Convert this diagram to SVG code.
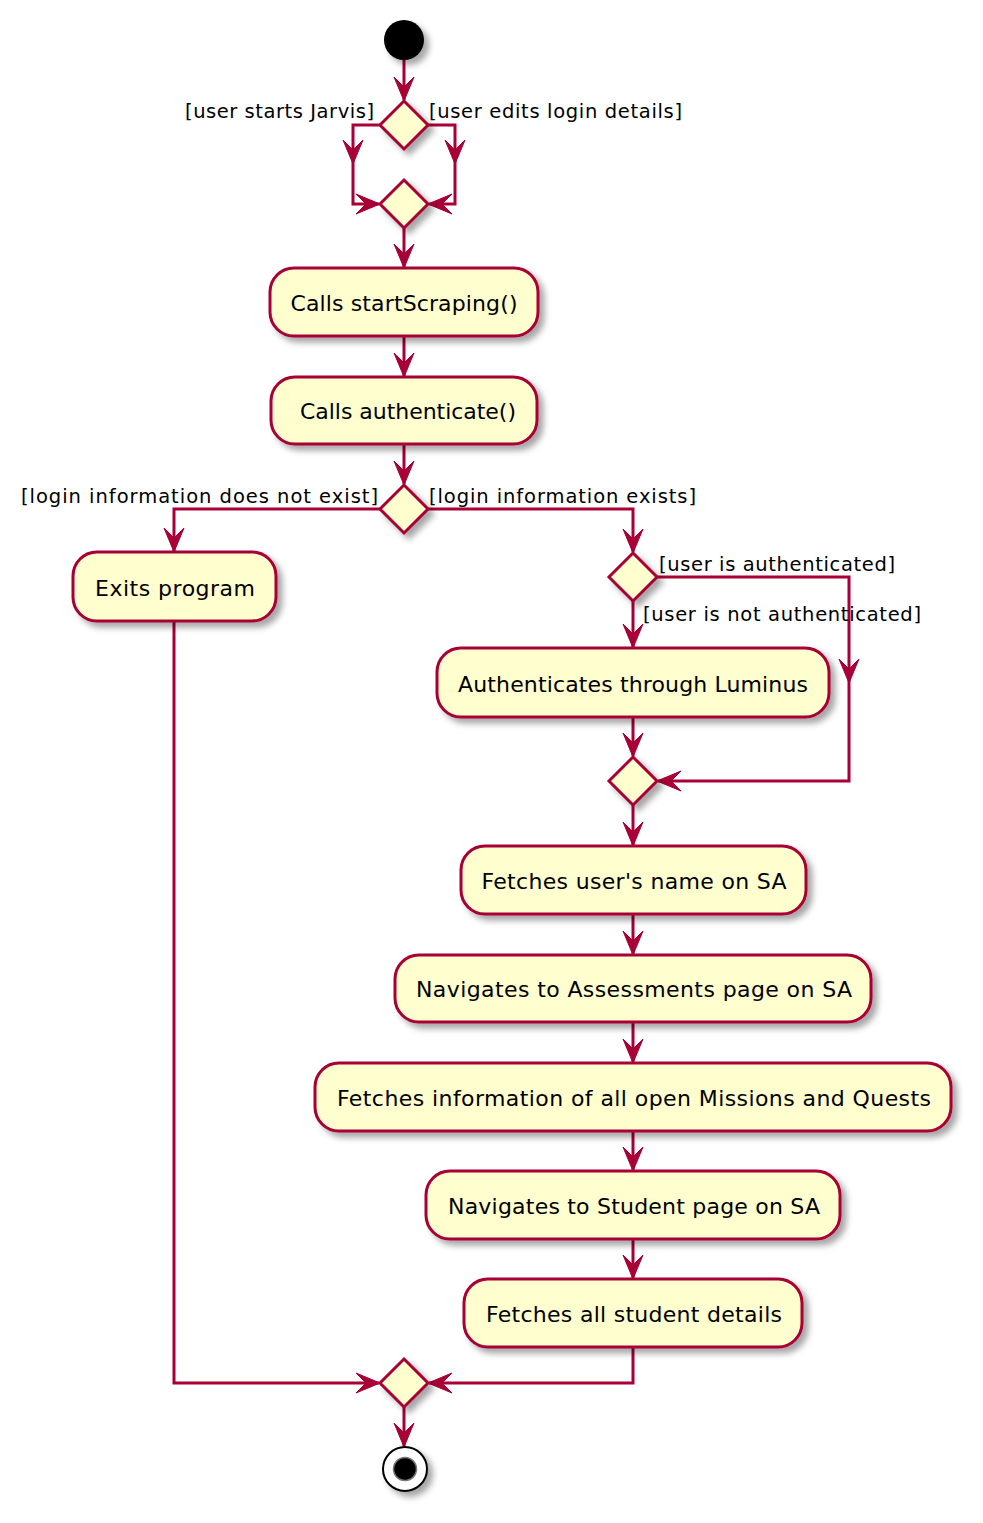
<svg xmlns="http://www.w3.org/2000/svg" xmlns:xlink="http://www.w3.org/1999/xlink" width="983" height="1523" viewBox="0 0 983 1523">
<style>
.node{fill:#FEFECE;stroke:#A80036;stroke-width:3;filter:url(#sh)}
.t{font-family:"DejaVu Sans","Liberation Sans",sans-serif;font-size:22px;fill:#000;text-anchor:middle}
.lbl{font-family:"DejaVu Sans","Liberation Sans",sans-serif;font-size:19.5px;fill:#000}
.e{fill:none;stroke:#A80036;stroke-width:3}
.ah{fill:#A80036;stroke:#A80036;stroke-width:1}
</style>
<defs>
<filter id="sh" x="-20%" y="-20%" width="150%" height="160%">
<feGaussianBlur in="SourceAlpha" stdDeviation="3"/>
<feOffset dx="5" dy="5" result="b"/>
<feColorMatrix in="b" type="matrix" values="0 0 0 0 0  0 0 0 0 0  0 0 0 0 0  0 0 0 0.35 0" result="c"/>
<feMerge><feMergeNode in="c"/><feMergeNode in="SourceGraphic"/></feMerge>
</filter>
<path id="ah" d="M0,0 L-10,-24 L0,-14 L10,-24 Z"/>
</defs>
<rect width="983" height="1523" fill="#FFFFFF"/>

<g id="connectors">
<path class="e" d="M404,60 V100"/>
<path class="e" d="M380,125 H353 V204 H379"/>
<path class="e" d="M428,125 H455 V204 H429"/>
<path class="e" d="M404,228 V267"/>
<path class="e" d="M404,336 V376"/>
<path class="e" d="M404,444 V484"/>
<path class="e" d="M380,509 H174 V551"/>
<path class="e" d="M428,509 H633 V552"/>
<path class="e" d="M633,601 V647"/>
<path class="e" d="M657,577 H849 V781 H658"/>
<path class="e" d="M633,717 V756"/>
<path class="e" d="M633,805 V845"/>
<path class="e" d="M633,914 V954"/>
<path class="e" d="M633,1022 V1062"/>
<path class="e" d="M633,1131 V1170"/>
<path class="e" d="M633,1239 V1278"/>
<path class="e" d="M633,1347 V1383 H429"/>
<path class="e" d="M174,621 V1383 H379"/>
<path class="e" d="M404,1407 V1446"/>
<use xlink:href="#ah" class="ah" transform="translate(404,101)"/>
<use xlink:href="#ah" class="ah" transform="translate(353,164)"/>
<use xlink:href="#ah" class="ah" transform="translate(455,164)"/>
<use xlink:href="#ah" class="ah" transform="translate(380,204) rotate(-90)"/>
<use xlink:href="#ah" class="ah" transform="translate(428,204) rotate(90)"/>
<use xlink:href="#ah" class="ah" transform="translate(404,268)"/>
<use xlink:href="#ah" class="ah" transform="translate(404,377)"/>
<use xlink:href="#ah" class="ah" transform="translate(404,485)"/>
<use xlink:href="#ah" class="ah" transform="translate(174,552)"/>
<use xlink:href="#ah" class="ah" transform="translate(633,553)"/>
<use xlink:href="#ah" class="ah" transform="translate(633,648)"/>
<use xlink:href="#ah" class="ah" transform="translate(849,683)"/>
<use xlink:href="#ah" class="ah" transform="translate(657,781) rotate(90)"/>
<use xlink:href="#ah" class="ah" transform="translate(633,757)"/>
<use xlink:href="#ah" class="ah" transform="translate(633,846)"/>
<use xlink:href="#ah" class="ah" transform="translate(633,955)"/>
<use xlink:href="#ah" class="ah" transform="translate(633,1063)"/>
<use xlink:href="#ah" class="ah" transform="translate(633,1171)"/>
<use xlink:href="#ah" class="ah" transform="translate(633,1279)"/>
<use xlink:href="#ah" class="ah" transform="translate(428,1383) rotate(90)"/>
<use xlink:href="#ah" class="ah" transform="translate(380,1383) rotate(-90)"/>
<use xlink:href="#ah" class="ah" transform="translate(404,1447)"/>
<text class="lbl" x="185" y="118" textLength="189">[user starts Jarvis]</text>
<text class="lbl" x="429" y="118" textLength="253">[user edits login details]</text>
<text class="lbl" x="21" y="503" textLength="357">[login information does not exist]</text>
<text class="lbl" x="429" y="503" textLength="267">[login information exists]</text>
<text class="lbl" x="659" y="571" textLength="236">[user is authenticated]</text>
<text class="lbl" x="643" y="621" textLength="278">[user is not authenticated]</text>
</g>

<g id="start"><circle cx="404" cy="40" r="20" fill="#000" filter="url(#sh)"/></g>
<g id="split1"><polygon class="node" points="404,101 428,125 404,149 380,125"/></g>
<g id="merge1"><polygon class="node" points="404,180 428,204 404,228 380,204"/></g>
<g id="startScraping"><rect class="node" x="270" y="268" width="268" height="68" rx="24"/><text class="t" x="404" y="311" textLength="227">Calls startScraping()</text></g>
<g id="authenticate"><rect class="node" x="271" y="377" width="266" height="67" rx="24"/><text class="t" x="408" y="419" textLength="216">Calls authenticate()</text></g>
<g id="split2"><polygon class="node" points="404,485 428,509 404,533 380,509"/></g>
<g id="exits"><rect class="node" x="73" y="552" width="203" height="69" rx="24"/><text class="t" x="175" y="596" textLength="160">Exits program</text></g>
<g id="split3"><polygon class="node" points="633,553 657,577 633,601 609,577"/></g>
<g id="luminus"><rect class="node" x="437" y="648" width="392" height="69" rx="24"/><text class="t" x="633" y="692" textLength="350">Authenticates through Luminus</text></g>
<g id="merge2"><polygon class="node" points="633,757 657,781 633,805 609,781"/></g>
<g id="fetchName"><rect class="node" x="461" y="846" width="345" height="68" rx="24"/><text class="t" x="634" y="889" textLength="305">Fetches user's name on SA</text></g>
<g id="navAssess"><rect class="node" x="395" y="955" width="476" height="67" rx="24"/><text class="t" x="634" y="997" textLength="436">Navigates to Assessments page on SA</text></g>
<g id="fetchInfo"><rect class="node" x="315" y="1063" width="636" height="68" rx="24"/><text class="t" x="634" y="1106" textLength="594">Fetches information of all open Missions and Quests</text></g>
<g id="navStudent"><rect class="node" x="426" y="1171" width="414" height="68" rx="24"/><text class="t" x="634" y="1214" textLength="372">Navigates to Student page on SA</text></g>
<g id="fetchStudent"><rect class="node" x="464" y="1279" width="338" height="68" rx="24"/><text class="t" x="634" y="1322" textLength="296">Fetches all student details</text></g>
<g id="merge3"><polygon class="node" points="404,1359 428,1383 404,1407 380,1383"/></g>
<g id="end"><circle cx="405" cy="1469" r="22" fill="#FFF" stroke="#000" stroke-width="2" filter="url(#sh)"/><circle cx="405" cy="1469" r="11.5" fill="#000" stroke="#777" stroke-width="1.5"/></g>
</svg>
